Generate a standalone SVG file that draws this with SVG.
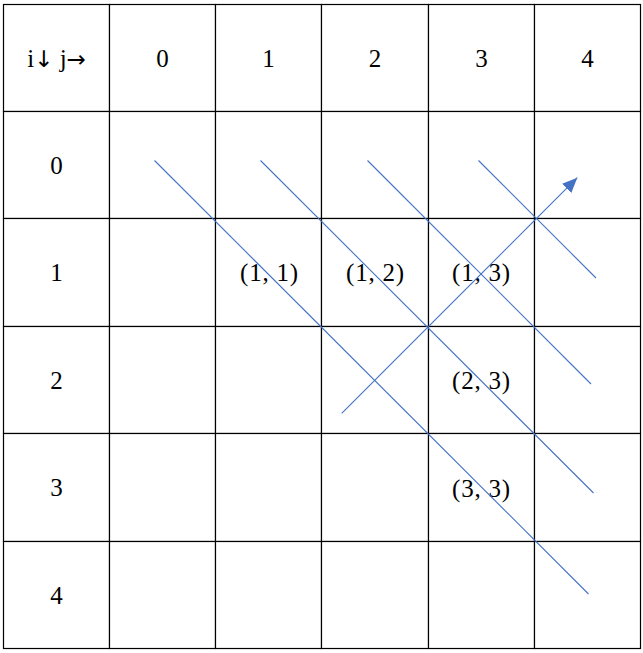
<svg xmlns="http://www.w3.org/2000/svg" width="643" height="653" viewBox="0 0 643 653">
<style>
.cell{fill:#fff;stroke:#000;stroke-width:1.2}
.t{font-family:"Liberation Serif","DejaVu Serif",serif;font-size:25px;fill:#000;text-anchor:middle}
.p{letter-spacing:0.8px}
.ar{font-family:"DejaVu Sans",serif;font-size:23px}
.c{stroke:#4472C4;stroke-width:1.1;fill:none}
</style>
<defs>
<marker id="ah" markerUnits="userSpaceOnUse" markerWidth="16" markerHeight="14" refX="15" refY="6.5" orient="auto">
<path d="M0,0 L15,6.5 L0,13 z" fill="#4472C4"/>
</marker>
</defs>
<rect width="643" height="653" fill="#fff"/>
<g id="grid">
<g id="h"><rect class="cell" x="3.5" y="4.5" width="106" height="107"/><text class="t" x="56.5" y="67">i<tspan class="ar">↓</tspan> j<tspan class="ar">→</tspan></text></g>
<g id="c0"><rect class="cell" x="109.5" y="4.5" width="106" height="107"/><text class="t" x="162.5" y="67">0</text></g>
<g id="c1"><rect class="cell" x="215.5" y="4.5" width="106" height="107"/><text class="t" x="268.5" y="67">1</text></g>
<g id="c2"><rect class="cell" x="321.5" y="4.5" width="107" height="107"/><text class="t" x="375" y="67">2</text></g>
<g id="c3"><rect class="cell" x="428.5" y="4.5" width="106" height="107"/><text class="t" x="481.5" y="67">3</text></g>
<g id="c4"><rect class="cell" x="534.5" y="4.5" width="106" height="107"/><text class="t" x="587.5" y="67">4</text></g>

<g id="r0"><rect class="cell" x="3.5" y="111.5" width="106" height="107"/><text class="t" x="56.5" y="174">0</text></g>
<g id="r0c0"><rect class="cell" x="109.5" y="111.5" width="106" height="107"/></g>
<g id="r0c1"><rect class="cell" x="215.5" y="111.5" width="106" height="107"/></g>
<g id="r0c2"><rect class="cell" x="321.5" y="111.5" width="107" height="107"/></g>
<g id="r0c3"><rect class="cell" x="428.5" y="111.5" width="106" height="107"/></g>
<g id="r0c4"><rect class="cell" x="534.5" y="111.5" width="106" height="107"/></g>

<g id="r1"><rect class="cell" x="3.5" y="218.5" width="106" height="108"/><text class="t" x="56.5" y="281">1</text></g>
<g id="r1c0"><rect class="cell" x="109.5" y="218.5" width="106" height="108"/></g>
<g id="r1c1"><rect class="cell" x="215.5" y="218.5" width="106" height="108"/><text class="t p" x="269.5" y="281">(1, 1)</text></g>
<g id="r1c2"><rect class="cell" x="321.5" y="218.5" width="107" height="108"/><text class="t p" x="375.5" y="281">(1, 2)</text></g>
<g id="r1c3"><rect class="cell" x="428.5" y="218.5" width="106" height="108"/><text class="t p" x="481.5" y="281">(1, 3)</text></g>
<g id="r1c4"><rect class="cell" x="534.5" y="218.5" width="106" height="108"/></g>

<g id="r2"><rect class="cell" x="3.5" y="326.5" width="106" height="107"/><text class="t" x="56.5" y="389">2</text></g>
<g id="r2c0"><rect class="cell" x="109.5" y="326.5" width="106" height="107"/></g>
<g id="r2c1"><rect class="cell" x="215.5" y="326.5" width="106" height="107"/></g>
<g id="r2c2"><rect class="cell" x="321.5" y="326.5" width="107" height="107"/></g>
<g id="r2c3"><rect class="cell" x="428.5" y="326.5" width="106" height="107"/><text class="t p" x="481.5" y="389">(2, 3)</text></g>
<g id="r2c4"><rect class="cell" x="534.5" y="326.5" width="106" height="107"/></g>

<g id="r3"><rect class="cell" x="3.5" y="433.5" width="106" height="108"/><text class="t" x="56.5" y="496">3</text></g>
<g id="r3c0"><rect class="cell" x="109.5" y="433.5" width="106" height="108"/></g>
<g id="r3c1"><rect class="cell" x="215.5" y="433.5" width="106" height="108"/></g>
<g id="r3c2"><rect class="cell" x="321.5" y="433.5" width="107" height="108"/></g>
<g id="r3c3"><rect class="cell" x="428.5" y="433.5" width="106" height="108"/><text class="t p" x="481.5" y="497">(3, 3)</text></g>
<g id="r3c4"><rect class="cell" x="534.5" y="433.5" width="106" height="108"/></g>

<g id="r4"><rect class="cell" x="3.5" y="541.5" width="106" height="107"/><text class="t" x="56.5" y="604">4</text></g>
<g id="r4c0"><rect class="cell" x="109.5" y="541.5" width="106" height="107"/></g>
<g id="r4c1"><rect class="cell" x="215.5" y="541.5" width="106" height="107"/></g>
<g id="r4c2"><rect class="cell" x="321.5" y="541.5" width="107" height="107"/></g>
<g id="r4c3"><rect class="cell" x="428.5" y="541.5" width="106" height="107"/></g>
<g id="r4c4"><rect class="cell" x="534.5" y="541.5" width="106" height="107"/></g>
</g>
<g id="connectors">
<line class="c" x1="154.5" y1="160.5" x2="588.5" y2="594"/>
<line class="c" x1="260.5" y1="160.5" x2="593.5" y2="493"/>
<line class="c" x1="367.5" y1="160.5" x2="591" y2="384"/>
<line class="c" x1="478.5" y1="160.5" x2="596" y2="278"/>
<line class="c" x1="341.7" y1="413.3" x2="577.3" y2="177.7" marker-end="url(#ah)"/>
</g>
</svg>
